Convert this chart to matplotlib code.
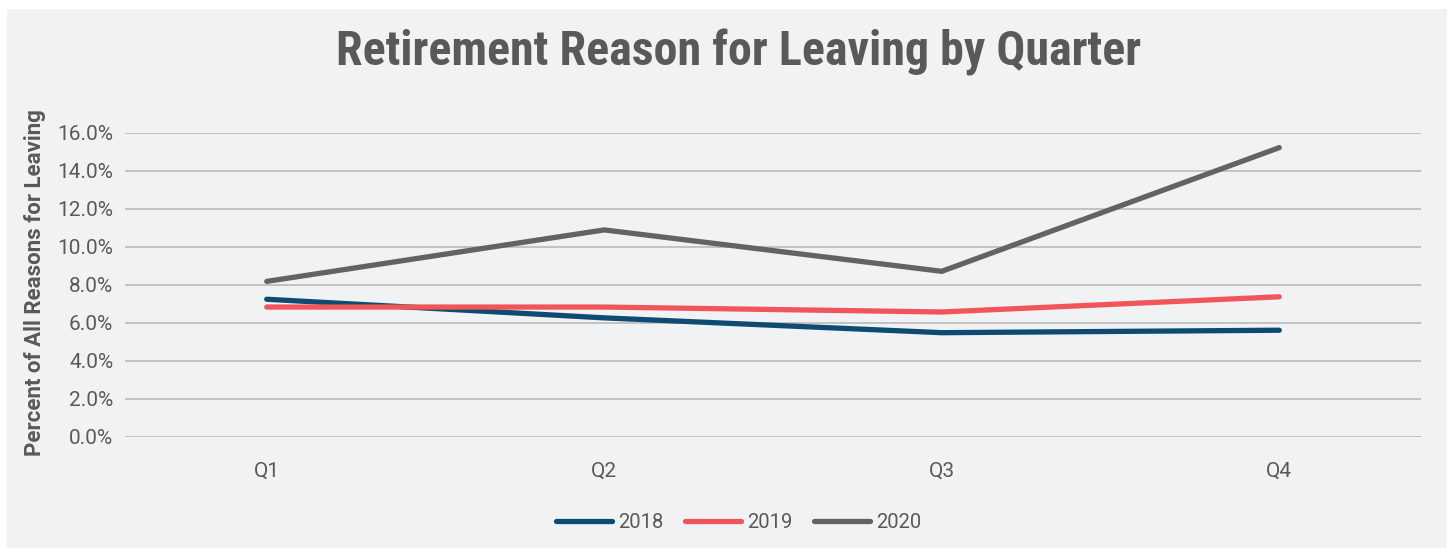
import matplotlib
matplotlib.use("Agg")
import matplotlib.pyplot as plt
from matplotlib.patches import Rectangle
from matplotlib.ticker import FuncFormatter, MultipleLocator

quarters = ["Q1", "Q2", "Q3", "Q4"]
years = ["2018", "2019", "2020"]
vals_2018 = [7.25, 6.27, 5.49, 5.62]
vals_2019 = [6.84, 6.84, 6.58, 7.38]
vals_2020 = [8.19, 10.90, 8.72, 15.23]
colors = ["#0d4b72", "#f0555a", "#636363"]

TXT = "#595959"
BG = "#f1f2f4"
TITLE_FONT = "Roboto Condensed"
FONT = "Roboto"

fig = plt.figure(figsize=(14.5, 5.48), dpi=100, facecolor="white")
fig.patches.append(Rectangle((7 / 1450, 0), (1447 - 7) / 1450, 1 - 9 / 548,
                             transform=fig.transFigure, facecolor=BG,
                             edgecolor="none", zorder=-10))

ax = fig.add_axes([125 / 1450, 1 - 437 / 548, (1421 - 125) / 1450, (437 - 133) / 548])
ax.set_facecolor("none")

x = list(range(len(quarters)))
for vals, c, lab in zip([vals_2018, vals_2019, vals_2020], colors, years):
    ax.plot(x, vals, color=c, lw=3.8, solid_capstyle="round",
            solid_joinstyle="miter", label=lab, zorder=3)

ax.set_xlim(-0.42, 3.42)
ax.set_ylim(0, 16)
ax.yaxis.set_major_locator(MultipleLocator(2))
ax.yaxis.set_major_formatter(FuncFormatter(lambda v, p: f"{v:.1f}%"))
ax.set_xticks(x)
ax.set_xticklabels(quarters)
ax.grid(axis="y", color="#bfbfbf", lw=1.3, zorder=0)
for s in ax.spines.values():
    s.set_visible(False)
ax.tick_params(axis="both", length=0, labelsize=15, labelcolor=TXT)
ax.tick_params(axis="y", pad=8.5)
ax.tick_params(axis="x", pad=18)
for t in ax.get_xticklabels() + ax.get_yticklabels():
    t.set_fontfamily(FONT)

fig.text(35 / 1450, 1 - 283 / 548, "Percent of All Reasons for Leaving",
         rotation=90, ha="center", va="center", fontsize=16,
         fontweight="bold", color=TXT, family=FONT)

fig.text(739 / 1450, 1 - 52 / 548, "Retirement Reason for Leaving by Quarter",
         ha="center", va="center", fontsize=34.6, fontweight="bold",
         color=TXT, family=TITLE_FONT)

leg = fig.legend(loc="center", bbox_to_anchor=(738.5 / 1450, 1 - 523 / 548),
                 ncol=3, frameon=False, handlelength=2.8, handletextpad=0.3,
                 columnspacing=1.05, prop={"family": FONT, "size": 14.5})
for t in leg.get_texts():
    t.set_color(TXT)

fig.savefig("out.png", dpi=100, facecolor="white")
